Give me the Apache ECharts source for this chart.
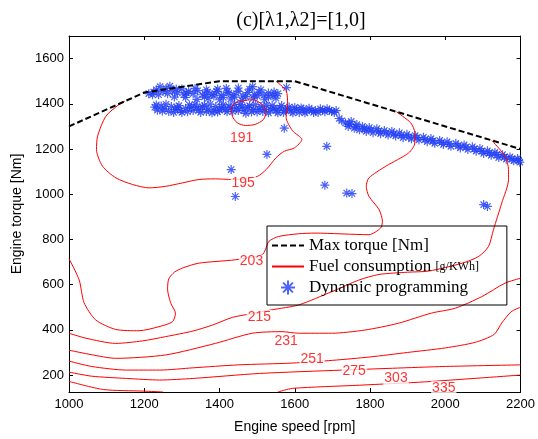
<!DOCTYPE html>
<html>
<head>
<meta charset="utf-8">
<script src="https://cdn.jsdelivr.net/npm/echarts@6.0.0/dist/echarts.min.js"></script>
<style>html,body{margin:0;padding:0;background:#fff}#chart{width:538px;height:439px}</style>
</head>
<body>
<div id="chart"></div>
<script>
// max torque curve
var maxTorqueSpeed = [1000, 1200, 1400, 1600, 2200];
var maxTorqueValue = [1300, 1450, 1500, 1500, 1200];

// fuel consumption contours, [rpm, Nm]
var c191 = [[1442,1405],[1471,1416],[1490,1418],[1513,1397],[1524,1368],[1517,1331],[1495,1309],[1469,1304],[1447,1316],[1434,1345],[1432,1383],[1442,1405]];
var c195 = [[1148,1411],[1133,1397],[1098,1345],[1076,1257],[1073,1198],[1089,1124],[1125,1072],[1169,1043],[1213,1028],[1257,1035],[1301,1050],[1345,1065],[1389,1068],[1434,1065],[1469,1068],[1501,1079],[1524,1109],[1550,1161],[1572,1190],[1599,1205],[1619,1242],[1594,1281],[1577,1340],[1581,1399],[1577,1458],[1550,1500]];
var c203 = [[1000,715],[1027,621],[1040,520],[1071,444],[1124,402],[1186,396],[1239,414],[1275,436],[1283,473],[1270,520],[1262,580],[1265,625],[1280,655],[1301,673],[1345,695],[1442,710],[1513,732],[1522,754],[1531,791],[1557,813],[1610,825],[1654,828],[1797,821],[1828,850],[1833,880],[1824,932],[1797,991],[1790,1035],[1797,1072],[1842,1124],[1903,1183],[1919,1227],[1919,1272],[1908,1316],[1870,1365]];
var c215 = [[1000,385],[1045,363],[1124,340],[1195,351],[1257,370],[1330,395],[1381,421],[1434,455],[1480,470],[1540,489],[1610,510],[1700,570],[1770,620],[1824,645],[1900,655],[1956,660],[2045,695],[2089,725],[2115,769],[2128,843],[2150,961],[2168,1065],[2168,1109],[2159,1168],[2124,1237]];
var c231 = [[1000,310],[1060,290],[1124,274],[1257,289],[1389,340],[1487,385],[1566,392],[1610,385],[1698,385],[1786,399],[1875,429],[1963,474],[2027,496],[2097,547],[2159,607],[2200,628]];
var c251 = [[1000,262],[1060,238],[1153,222],[1241,222],[1330,232],[1450,245],[1593,253],[1700,265],[1800,280],[1900,300],[2000,320],[2080,345],[2130,380],[2150,430],[2175,480],[2200,500]];
var c275 = [[1000,213],[1060,195],[1153,185],[1241,178],[1330,185],[1506,207],[1727,222],[1859,230],[2000,238],[2200,245]];
var c303a = [[1000,172],[1091,136],[1197,129],[1250,125]];
var c303b = [[1555,125],[1594,141],[1771,155],[1947,170],[2200,200]];

// contour labels
var labelText = ['191','195','203','215','231','251','275','303','335'];
var labelSpeed = [1459, 1463, 1485, 1506, 1577, 1646, 1758, 1869, 1996];
var labelTorque = [1250, 1051, 702, 457, 351, 271, 218, 187, 142];

// dynamic programming operating points, [rpm, Nm]
var dpPoints = [
  // upper row
  [1212,1445],[1225,1452],[1238,1440],[1242,1476],[1250,1455],[1262,1445],[1268,1478],[1275,1458],[1288,1448],[1300,1466],
  [1305,1440],[1318,1455],[1330,1445],[1342,1458],[1355,1440],[1368,1452],[1380,1442],[1392,1455],[1405,1438],[1418,1468],
  [1425,1448],[1438,1440],[1450,1455],[1462,1435],[1475,1450],[1488,1476],[1492,1440],[1505,1452],[1518,1438],[1530,1448],
  [1542,1436],[1555,1445],[1578,1472],
  [1360,1430],[1385,1435],[1410,1428],[1440,1430],[1470,1432],[1500,1435],[1530,1430],[1545,1452],[1510,1462],[1480,1465],
  [1450,1470],[1420,1452],[1395,1465],[1365,1462],[1335,1468],[1312,1448],[1285,1465],[1258,1468],[1222,1440],[1232,1462],
  [1280,1430],[1310,1428],[1340,1420],[1370,1425],[1400,1418],[1430,1422],[1460,1415],[1490,1425],[1520,1418],[1550,1425],
  // main band
  [1228,1385],[1235,1372],[1245,1390],[1255,1378],[1265,1366],[1272,1388],[1282,1375],[1292,1392],[1300,1362],[1310,1380],
  [1320,1395],[1330,1370],[1340,1385],[1350,1362],[1360,1392],[1370,1376],[1380,1360],[1390,1388],[1400,1372],[1410,1396],
  [1420,1365],[1430,1382],[1440,1398],[1450,1370],[1460,1386],[1470,1358],[1480,1392],[1490,1375],[1500,1364],[1510,1388],
  [1520,1376],[1530,1360],[1540,1392],[1550,1370],[1560,1382],[1570,1362],[1580,1378],[1590,1368],[1600,1384],[1612,1362],
  [1622,1376],[1632,1368],[1645,1372],[1655,1370],[1668,1378],[1680,1365],[1692,1372],[1705,1362],
  [1232,1395],[1248,1368],[1258,1398],[1278,1362],[1288,1384],[1296,1370],[1315,1365],[1325,1384],[1335,1398],[1345,1374],
  [1355,1388],[1365,1366],[1375,1398],[1385,1372],[1395,1364],[1405,1384],[1415,1374],[1425,1390],[1435,1366],[1445,1380],
  [1455,1396],[1465,1372],[1475,1384],[1485,1364],[1495,1396],[1505,1376],[1515,1366],[1525,1394],[1535,1374],[1545,1380],
  [1555,1360],[1565,1392],[1575,1372],[1585,1386],[1595,1360],[1605,1374],[1617,1382],[1627,1360],[1638,1380],[1650,1362],
  [1662,1362],[1674,1372],[1686,1378],[1698,1366],[1710,1370],
  // descending band
  [1718,1335],[1735,1315],[1742,1300],[1750,1322],[1758,1292],[1765,1308],[1772,1285],[1780,1300],[1790,1278],[1798,1295],
  [1808,1272],[1818,1290],[1828,1268],[1838,1282],[1848,1262],[1858,1278],[1868,1258],[1878,1272],[1888,1250],[1898,1265],
  [1910,1245],[1920,1260],[1930,1240],[1942,1252],[1952,1232],[1962,1246],[1972,1225],[1985,1238],[1995,1220],[2005,1232],
  [2015,1212],[2028,1225],[2040,1205],[2050,1218],[2060,1198],[2072,1210],[2082,1190],[2092,1202],[2102,1180],[2112,1192],
  [2122,1172],[2132,1185],[2142,1162],[2152,1175],[2162,1155],[2172,1165],[2182,1148],[2192,1158],[2198,1142],
  [1725,1325],[1745,1310],[1762,1298],[1785,1290],[1803,1284],[1823,1278],[1843,1272],[1863,1266],[1883,1260],[1903,1254],
  [1925,1250],[1946,1242],[1967,1236],[1990,1228],[2010,1222],[2034,1214],[2055,1208],[2077,1200],[2097,1190],[2117,1182],
  [2137,1175],[2157,1165],[2177,1155],[2195,1150],
  // isolated points
  [1572,1292],[1526,1176],[1431,1109],[1442,990],[1685,1212],[1680,1040],[1738,1005],[1752,1003],[2102,954],[2112,946]
];

var asterisk = 'path://M5,0L5,10M0,5L10,5M1.5,1.5L8.5,8.5M1.5,8.5L8.5,1.5';
var dpColor = '#1f3cf5';

function contour(data) {
  return {
    name: 'Fuel consumption', type: 'line', data: data, symbol: 'none', smooth: 0.25,
    lineStyle: {color: '#ff0000', width: 1}, itemStyle: {color: '#ff0000'}, z: 3
  };
}

var labelData = labelText.map(function (t, i) { return [labelSpeed[i], labelTorque[i], t]; });

var chart = echarts.init(document.getElementById('chart'));
chart.setOption({
  animation: false,
  backgroundColor: '#fff',
  title: {
    text: '(c)[λ1,λ2]=[1,0]', left: 296, top: 6, textAlign: 'center',
    textStyle: {fontFamily: 'Liberation Serif', fontSize: 20, fontWeight: 'normal', color: '#000'}
  },
  grid: {left: 69, right: 16, top: 36, bottom: 47},
  legend: {
    orient: 'vertical', left: 267, top: 226,
    padding: [11, 28, 9, 4], itemGap: 4, itemWidth: 32, itemHeight: 14,
    borderColor: '#000', borderWidth: 1, backgroundColor: 'transparent',
    textStyle: {fontFamily: 'Liberation Serif', fontSize: 17, color: '#000',
      rich: {s: {fontFamily: 'Liberation Serif', fontSize: 12, color: '#000'}}},
    formatter: function (name) { return name === 'Fuel consumption' ? name + ' {s|[g/KWh]}' : name; },
    data: [
      {name: 'Max torque [Nm]', itemStyle: {opacity: 0}},
      {name: 'Fuel consumption', itemStyle: {opacity: 0}},
      {name: 'Dynamic programming', itemStyle: {borderWidth: 2}}
    ]
  },
  xAxis: [{
    type: 'value', min: 1000, max: 2200, interval: 200,
    name: 'Engine speed [rpm]', nameLocation: 'middle', nameGap: 28,
    nameTextStyle: {fontFamily: 'Liberation Sans', fontSize: 14, color: '#000'},
    axisLine: {lineStyle: {color: '#000', width: 1}},
    axisTick: {inside: true, length: 4, lineStyle: {color: '#000'}},
    axisLabel: {fontFamily: 'Liberation Sans', fontSize: 13, color: '#000', margin: 6,
      formatter: function (v) { return String(v); }},
    splitLine: {show: false}
  }, {
    type: 'value', position: 'top', min: 1000, max: 2200, interval: 200,
    axisLine: {lineStyle: {color: '#000', width: 1}},
    axisTick: {inside: true, length: 4, lineStyle: {color: '#000'}},
    axisLabel: {show: false}, splitLine: {show: false}
  }],
  yAxis: [{
    type: 'value', min: 125, max: 1700, splitNumber: 8,
    name: 'Engine torque [Nm]', nameLocation: 'middle', nameGap: 38,
    nameTextStyle: {fontFamily: 'Liberation Sans', fontSize: 14, color: '#000'},
    axisLine: {lineStyle: {color: '#000', width: 1}},
    axisTick: {inside: true, length: 4, lineStyle: {color: '#000'}},
    axisLabel: {fontFamily: 'Liberation Sans', fontSize: 13, color: '#000', margin: 5,
      formatter: function (v) { return v % 200 === 0 ? String(v) : ''; }},
    splitLine: {show: false}
  }, {
    type: 'value', position: 'right', min: 125, max: 1700, splitNumber: 8,
    axisLine: {lineStyle: {color: '#000', width: 1}},
    axisTick: {inside: true, length: 4, lineStyle: {color: '#000'}},
    axisLabel: {show: false}, splitLine: {show: false}
  }],
  series: [
    {
      name: 'Dynamic programming', type: 'scatter', data: dpPoints,
      symbol: asterisk, symbolSize: 9, z: 2,
      itemStyle: {color: 'rgba(0,0,0,0)', borderColor: dpColor, borderWidth: 1.2}
    },
    contour(c191), contour(c195), contour(c203), contour(c215), contour(c231),
    contour(c251), contour(c275), contour(c303a), contour(c303b),
    {
      name: 'Max torque [Nm]', type: 'line', symbol: 'none', z: 4,
      data: maxTorqueSpeed.map(function (s, i) { return [s, maxTorqueValue[i]]; }),
      lineStyle: {color: '#000', width: 2, type: [6, 3]}, itemStyle: {color: '#000'}
    },
    {
      name: 'labels', type: 'scatter', data: labelData, symbolSize: 1, z: 5, silent: true,
      itemStyle: {color: 'rgba(0,0,0,0)'},
      label: {show: true, position: 'inside', formatter: function (p) { return p.value[2]; },
        fontFamily: 'Liberation Sans', fontSize: 14, color: '#ff0000',
        backgroundColor: '#fff', padding: [0, 1]}
    }
  ]
});
</script>
</body>
</html>
